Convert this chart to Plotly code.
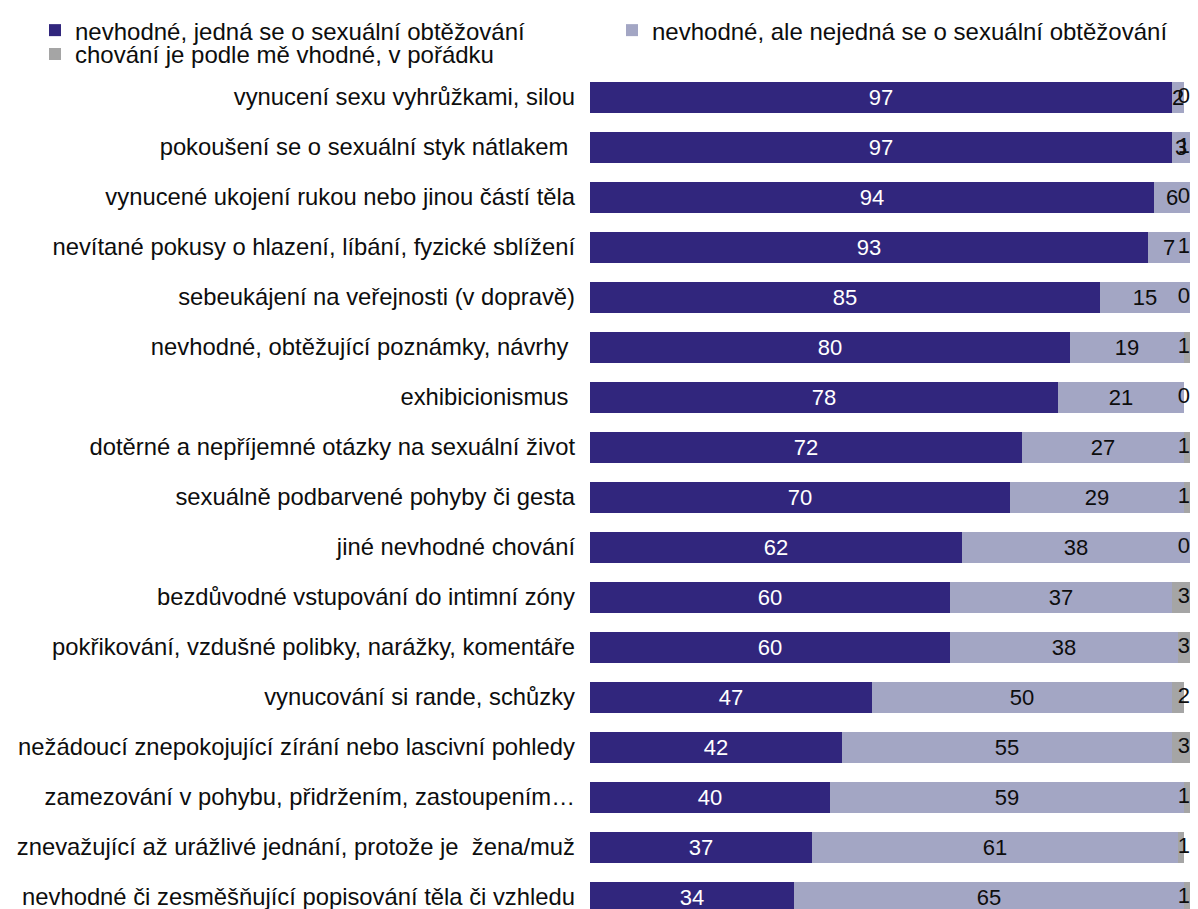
import plotly.graph_objects as go

categories = [
    "vynucení sexu vyhrůžkami, silou",
    "pokoušení se o sexuální styk nátlakem\u00a0",
    "vynucené ukojení rukou nebo jinou částí těla",
    "nevítané pokusy o hlazení, líbání, fyzické sblížení",
    "sebeukájení na veřejnosti (v dopravě)",
    "nevhodné, obtěžující poznámky, návrhy\u00a0",
    "exhibicionismus\u00a0",
    "dotěrné a nepříjemné otázky na sexuální život",
    "sexuálně podbarvené pohyby či gesta",
    "jiné nevhodné chování",
    "bezdůvodné vstupování do intimní zóny",
    "pokřikování, vzdušné polibky, narážky, komentáře",
    "vynucování si rande, schůzky",
    "nežádoucí znepokojující zírání nebo lascivní pohledy",
    "zamezování v pohybu, přidržením, zastoupením…",
    "znevažující až urážlivé jednání, protože je \u00a0žena/muž",
    "nevhodné či zesměšňující popisování těla či vzhledu",
]
harassment = [97, 97, 94, 93, 85, 80, 78, 72, 70, 62, 60, 60, 47, 42, 40, 37, 34]
not_harassment = [2, 3, 6, 7, 15, 19, 21, 27, 29, 38, 37, 38, 50, 55, 59, 61, 65]
appropriate = [0, 1, 0, 1, 0, 1, 0, 1, 1, 0, 3, 3, 2, 3, 1, 1, 1]

series_names = [
    "nevhodné, jedná se o sexuální obtěžování",
    "nevhodné, ale nejedná se o sexuální obtěžování",
    "chování je podle mě vhodné, v pořádku",
]
colors = ["#31267D", "#A3A6C4", "#A5A5A5"]
X_MAX = 100

FONT = "Liberation Sans, Arial, sans-serif"
TXT = "#0d0d0d"

fig = go.Figure()
fig.add_trace(go.Bar(
    y=categories, x=harassment, orientation="h", name=series_names[0],
    marker=dict(color=colors[0], line=dict(width=0)),
    text=harassment, textposition="inside", insidetextanchor="middle",
    constraintext="none", insidetextfont=dict(color="white", size=22, family=FONT),
    hoverinfo="x+name", legend="legend",
))
fig.add_trace(go.Bar(
    y=categories, x=not_harassment, orientation="h", name=series_names[1],
    marker=dict(color=colors[1], line=dict(width=0)),
    text=not_harassment, textposition="inside", insidetextanchor="middle",
    constraintext="none", insidetextfont=dict(color=TXT, size=22, family=FONT),
    hoverinfo="x+name", legend="legend",
))
fig.add_trace(go.Bar(
    y=categories, x=appropriate, orientation="h", name=series_names[2],
    marker=dict(color=colors[2], line=dict(width=0)),
    textposition="none",
    hoverinfo="x+name", legend="legend2",
))
fig.add_trace(go.Scatter(
    y=categories, x=[X_MAX] * len(categories), mode="text",
    text=[str(v) for v in appropriate], textposition="middle left",
    textfont=dict(color=TXT, size=22, family=FONT),
    showlegend=False, hoverinfo="skip", cliponaxis=False,
))

legend_common = dict(
    orientation="h", xref="paper", yref="paper",
    x=-0.925, xanchor="left", yanchor="top",
    entrywidth=532, entrywidthmode="pixels",
    font=dict(size=24, family=FONT, color=TXT),
    traceorder="normal", itemwidth=30, bgcolor="rgba(0,0,0,0)",
    borderwidth=0,
)

fig.update_layout(
    width=1198, height=909,
    barmode="stack", bargap=0.38,
    paper_bgcolor="white", plot_bgcolor="white",
    margin=dict(l=582, r=16, t=64, b=0),
    font=dict(family=FONT, size=23.5, color=TXT),
    legend=dict(legend_common, y=1.0757),
    legend2=dict(legend_common, y=1.0475),
    xaxis=dict(range=[0, X_MAX], visible=False, fixedrange=True),
    yaxis=dict(
        categoryorder="array", categoryarray=categories,
        range=[16.4, -0.5], showgrid=False, zeroline=False, showline=False,
        ticks="", ticklabelstandoff=14, automargin=False,
        tickfont=dict(size=23.8, family=FONT, color=TXT),
    ),
    showlegend=True,
)

fig.write_html("out.html")
